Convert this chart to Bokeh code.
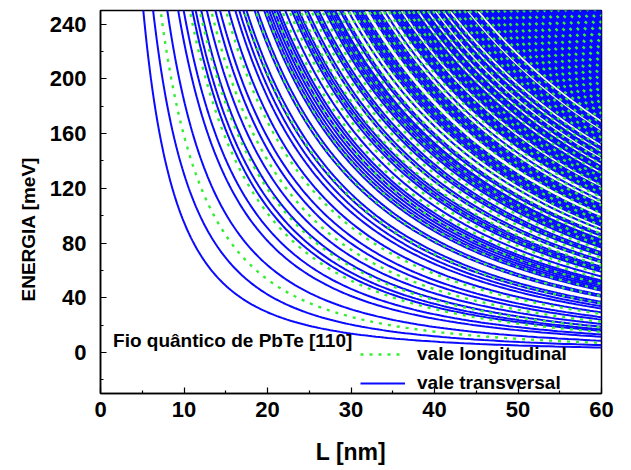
import numpy as np
from bokeh.plotting import figure
from bokeh.models import Legend, LegendItem, FixedTicker, Range1d, Title, Label
from bokeh.embed import file_html
from bokeh.resources import INLINE

# ---- data -----------------------------------------------------------------
# Each quantized level is identified by its energy (meV) at L = 60 nm.
blue_e60 = [3.6, 5.4, 8.6, 11.5, 13.1, 15.8, 16.9, 18.8, 20.8, 24.0, 25.8, 29.3,
            32.1, 33.8, 35.6, 37.0, 40.7, 42.0, 45.2, 46.4, 47.6, 48.9, 50.1,
            51.4, 52.6, 55.6, 59.0, 60.2, 61.4, 62.7, 65.9, 67.3, 70.8, 72.0,
            73.3, 76.7, 77.9, 79.1, 80.3, 81.5, 82.5, 85.2, 86.5, 89.8, 92.6,
            93.8, 95.0, 96.2, 97.4, 98.6, 102.0, 103.2, 104.4, 105.6, 106.8,
            108.0, 111.0, 114.5, 115.7, 116.9, 118.1, 119.3, 120.1, 122.8,
            124.0, 125.2, 126.4, 127.6, 128.8, 129.9, 132.6, 133.8, 135.0,
            136.0, 138.7, 139.9, 140.8, 143.4, 144.6, 145.7, 148.4, 149.8,
            152.8, 154.0, 155.2, 156.4, 157.6, 158.8, 160.0, 161.1, 163.7,
            164.9, 166.1, 167.4, 170.5, 171.5, 172.4, 173.4, 174.3, 175.3,
            176.2, 177.2, 178.1, 179.1, 180.0, 181.0, 181.9, 182.9, 183.8,
            184.8, 185.7, 186.7, 187.6, 188.6, 189.5, 190.5, 191.4, 192.4,
            193.3, 194.3, 195.2, 196.2, 197.1, 198.1, 199.0, 200.0, 200.9,
            201.9, 202.8, 203.8, 204.7, 205.7, 206.6, 207.6, 208.5, 209.5,
            210.4, 211.4, 212.3, 213.3, 214.2, 215.2, 216.1, 217.1, 218.0,
            219.0, 219.9, 220.9, 221.8, 222.8, 223.7, 224.7, 225.6, 226.6,
            227.5, 228.5, 229.4, 230.4, 231.3, 232.3, 233.2, 234.2, 235.1,
            236.1, 237.0, 238.0, 238.9, 239.9, 240.8, 241.8, 242.7, 243.7,
            244.6, 245.6, 246.5, 247.5, 248.4, 249.4]
green_e60 = [7.0, 15.0, 18.3, 22.4, 28.2, 36.0, 41.2, 45.9, 50.1, 54.0, 57.6,
             60.4, 63.5, 66.1, 69.3, 72.0, 75.2, 78.1, 80.9, 84.0, 86.8, 89.9,
             92.7, 95.8, 98.6, 101.7, 104.5, 107.6, 110.4, 113.5, 116.3, 119.4,
             122.2, 125.3, 128.1, 131.2, 134.3, 137.5, 140.6, 143.8, 147.0,
             150.3, 153.7, 157.0, 160.4, 163.9, 167.5, 171.0, 174.6, 178.3,
             182.0, 186.1, 190.2, 194.4, 198.7, 203.0, 207.6, 212.2, 216.8,
             221.5, 226.3, 231.2, 236.1, 241.0, 246.0]
x_ticks = [0, 10, 20, 30, 40, 50, 60]
x_minor = [5, 15, 25, 35, 45, 55]
y_ticks = [0, 40, 80, 120, 160, 200, 240]
y_minor = [-20, 20, 60, 100, 140, 180, 220]

EG = 250.0      # non-parabolicity energy of the level curves (meV)
L_END = 60.0
E_TOP = 250.0


def level_curve(e60):
    c = e60 * (1 + e60 / EG) * L_END ** 2
    l_top = np.sqrt(c / (E_TOP * (1 + E_TOP / EG)))
    L = np.geomspace(max(l_top * 0.97, 0.3), L_END, 180)
    f = c / L ** 2
    E = EG / 2 * (np.sqrt(1 + 4 * f / EG) - 1)
    return list(L), list(E)


bx, by = zip(*[level_curve(e) for e in blue_e60])
gx, gy = zip(*[level_curve(e) for e in green_e60])

FONT = "Liberation Sans"

p = figure(width=631, height=470, x_range=Range1d(0, 60), y_range=Range1d(-30, 250),
           output_backend="svg", toolbar_location=None,
           min_border_left=100, min_border_right=30, min_border_top=10,
           min_border_bottom=77, background_fill_color="white",
           border_fill_color="white")
p.grid.visible = False
p.outline_line_color = "black"
p.outline_line_width = 1.5

b = p.multi_line(list(bx), list(by), line_color="#0a0aff", line_width=2.0)
g = p.multi_line(list(gx), list(gy), line_color="#33ee33", line_width=2.4,
                 line_dash="3 6")

for ax in (p.xaxis[0], p.yaxis[0]):
    ax.major_tick_in = 6
    ax.major_tick_out = 0
    ax.minor_tick_in = 3
    ax.minor_tick_out = 0
    ax.axis_line_width = 1.5
    ax.major_tick_line_width = 1.2
    ax.minor_tick_line_width = 1.2
    ax.major_label_text_font = FONT
    ax.major_label_text_font_style = "bold"
    ax.major_label_text_font_size = "22px"
    ax.major_label_text_color = "black"
p.xaxis[0].ticker = FixedTicker(ticks=x_ticks, minor_ticks=x_minor)
p.yaxis[0].ticker = FixedTicker(ticks=y_ticks, minor_ticks=y_minor)
p.xaxis[0].major_label_standoff = 8
p.yaxis[0].major_label_standoff = 14

p.xaxis[0].axis_label = "L [nm]"
p.xaxis[0].axis_label_text_font = FONT
p.xaxis[0].axis_label_text_font_style = "bold"
p.xaxis[0].axis_label_text_font_size = "23px"
p.xaxis[0].axis_label_text_color = "black"
p.xaxis[0].axis_label_standoff = 19

ytitle = Title(text="ENERGIA [meV]", align="left", offset=92,
               text_font=FONT, text_font_style="bold", text_font_size="19px",
               text_color="black", standoff=16)
p.add_layout(ytitle, "left")

legend = Legend(items=[LegendItem(label="vale longitudinal", renderers=[g]),
                       LegendItem(label="vale transversal", renderers=[b])],
                location=(260, -1), padding=0, margin=0, spacing=7,
                glyph_width=45, glyph_height=20, label_height=20,
                label_standoff=12, background_fill_alpha=0, border_line_alpha=0,
                label_text_font=FONT, label_text_font_style="bold",
                label_text_font_size="19px", label_text_color="black")
p.add_layout(legend)

p.add_layout(Label(x=1.5, y=8.4, text="Fio quântico de PbTe [110]",
                   text_font=FONT, text_font_style="bold", text_font_size="19px",
                   text_baseline="middle", text_color="black"))

open("out.html", "w").write(file_html(p, INLINE))
